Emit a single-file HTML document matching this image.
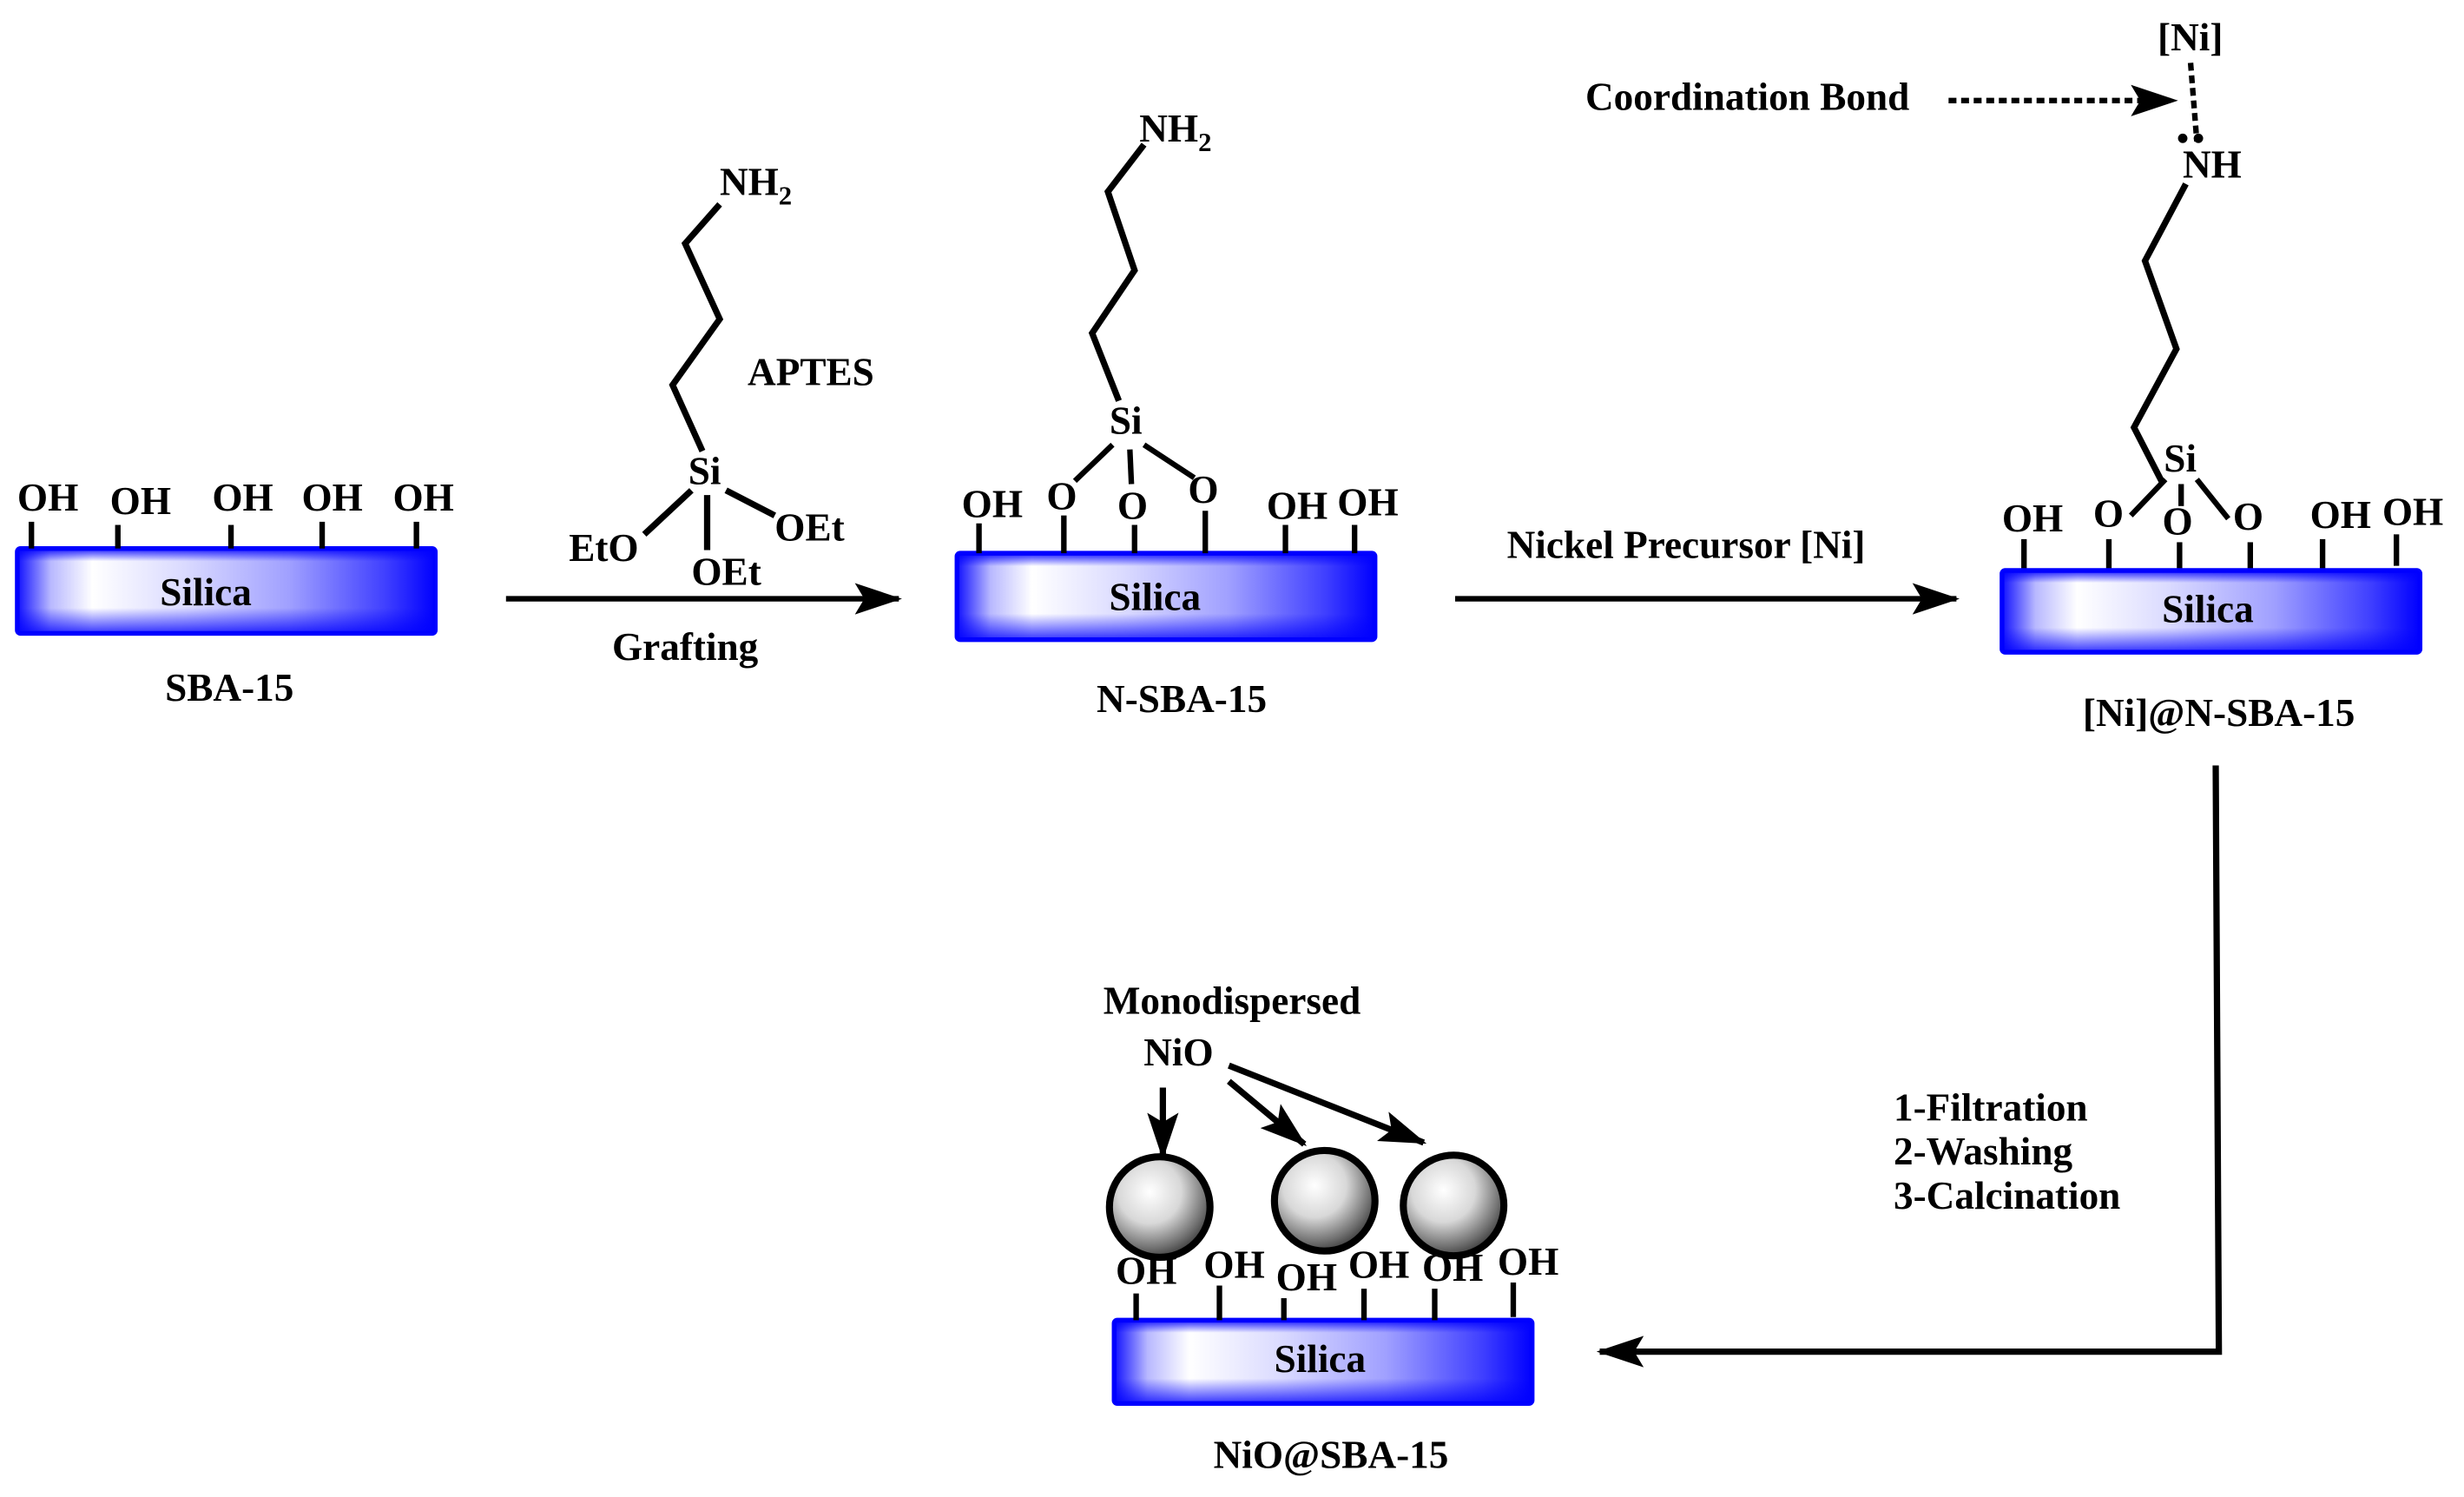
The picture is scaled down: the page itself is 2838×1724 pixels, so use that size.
<!DOCTYPE html>
<html><head><meta charset="utf-8"><style>
html,body{margin:0;padding:0;background:#fff;}
svg{display:block}
svg text{font-family:"Liberation Serif","Times New Roman","DejaVu Serif",serif !important;font-weight:bold;fill:#000}
</style></head><body>
<svg width="2838" height="1724" viewBox="0 0 1568 952.5" preserveAspectRatio="none" xmlns="http://www.w3.org/2000/svg" font-family="Liberation Serif, Times New Roman, serif" font-weight="bold">
<defs>
<linearGradient id="gh" x1="0" x2="1" y1="0" y2="0">
<stop offset="0" stop-color="#1010ff"/>
<stop offset="0.08" stop-color="#b8b8ff"/>
<stop offset="0.18" stop-color="#ffffff"/>
<stop offset="0.4" stop-color="#dadaff"/>
<stop offset="0.65" stop-color="#a0a0ff"/>
<stop offset="0.88" stop-color="#4040ff"/>
<stop offset="1" stop-color="#0000ff"/>
</linearGradient>
<linearGradient id="gv" x1="0" x2="0" y1="0" y2="1">
<stop offset="0" stop-color="#0000ff" stop-opacity="0.9"/>
<stop offset="0.15" stop-color="#0000ff" stop-opacity="0"/>
<stop offset="0.7" stop-color="#0000ff" stop-opacity="0"/>
<stop offset="1" stop-color="#0000ff" stop-opacity="0.8"/>
</linearGradient>
<radialGradient id="sp" cx="0.4" cy="0.35" r="0.7">
<stop offset="0" stop-color="#ffffff"/>
<stop offset="0.45" stop-color="#d8d8d8"/>
<stop offset="0.8" stop-color="#707070"/>
<stop offset="1" stop-color="#303030"/>
</radialGradient>
<marker id="ab" viewBox="0 0 30 20" markerWidth="30" markerHeight="20" refX="28" refY="10" orient="auto" markerUnits="userSpaceOnUse">
<path d="M0,0 L30,10 L0,20 L6,10 z" fill="#000"/>
</marker>
</defs>

<rect x="11" y="349" width="266" height="54" fill="url(#gh)" stroke="#0000ff" stroke-width="3" rx="2"/>
<rect x="11" y="349" width="266" height="54" fill="url(#gv)"/>
<g stroke="#000" stroke-width="3.5">
<line x1="20" y1="332" x2="20" y2="349"/><line x1="75" y1="334" x2="75" y2="349"/><line x1="147" y1="334" x2="147" y2="349"/><line x1="205" y1="332" x2="205" y2="349"/><line x1="265" y1="332" x2="265" y2="349"/>
</g>
<g font-size="25">
<text x="11" y="325">OH</text><text x="70" y="327">OH</text><text x="135" y="325">OH</text><text x="192" y="325">OH</text><text x="250" y="325">OH</text>
</g>
<text x="131" y="385" font-size="25" text-anchor="middle">Silica</text>
<text x="146" y="446" font-size="25" text-anchor="middle">SBA-15</text>

<line x1="322" y1="381" x2="572" y2="381" stroke="#000" stroke-width="3.5" marker-end="url(#ab)"/>
<text x="436" y="420" font-size="25" text-anchor="middle">Grafting</text>
<text x="516" y="245" font-size="25" text-anchor="middle">APTES</text>
<g stroke="#000" stroke-width="4" fill="none">
<polyline points="447,287 428,245 458,203 436,155 458,130"/>
<line x1="440" y1="312" x2="410" y2="340"/>
<line x1="462" y1="312" x2="493" y2="328"/>
<line x1="450" y1="315" x2="450" y2="350"/>
</g>
<g font-size="25">
<text x="438" y="308">Si</text>
<text x="458" y="124">NH<tspan font-size="17" dy="6">2</tspan></text>
<text x="362" y="357">EtO</text><text x="493" y="344">OEt</text><text x="440" y="372">OEt</text>
</g>

<rect x="609" y="352" width="266" height="55" fill="url(#gh)" stroke="#0000ff" stroke-width="3" rx="2"/>
<rect x="609" y="352" width="266" height="55" fill="url(#gv)"/>
<g stroke="#000" stroke-width="3.5" fill="none">
<line x1="623" y1="333" x2="623" y2="352"/><line x1="677" y1="328" x2="677" y2="352"/><line x1="722" y1="334" x2="722" y2="352"/><line x1="767" y1="325" x2="767" y2="352"/><line x1="818" y1="334" x2="818" y2="352"/><line x1="862" y1="334" x2="862" y2="352"/>
<polyline points="712,255 695,212 722,172 705,122 728,92" stroke-width="4"/>
<line x1="708" y1="283" x2="684" y2="306"/><line x1="719" y1="286" x2="720" y2="308"/><line x1="728" y1="283" x2="760" y2="304"/>
</g>
<g font-size="25">
<text x="612" y="329">OH</text><text x="666" y="324">O</text><text x="711" y="330">O</text><text x="756" y="320">O</text><text x="806" y="330">OH</text><text x="851" y="328">OH</text>
<text x="706" y="276">Si</text>
<text x="725" y="90">NH<tspan font-size="17" dy="6">2</tspan></text>
</g>
<text x="735" y="388" font-size="25" text-anchor="middle">Silica</text>
<text x="752" y="453" font-size="25" text-anchor="middle">N-SBA-15</text>

<line x1="926" y1="381" x2="1245" y2="381" stroke="#000" stroke-width="3.5" marker-end="url(#ab)"/>
<text x="1073" y="355" font-size="25" text-anchor="middle">Nickel Precursor [Ni]</text>

<text x="1112" y="70" font-size="25" text-anchor="middle">Coordination Bond</text>
<line x1="1240" y1="64" x2="1384" y2="64" stroke="#000" stroke-width="3.5" stroke-dasharray="5,3" marker-end="url(#ab)"/>
<line x1="1394" y1="40" x2="1398" y2="90" stroke="#000" stroke-width="3.5" stroke-dasharray="5,3"/>
<circle cx="1389" cy="88" r="3"/><circle cx="1399" cy="88" r="3"/>
<g font-size="25">
<text x="1373" y="32">[Ni]</text>
<text x="1389" y="113">NH</text>
<text x="1377" y="300">Si</text>
<text x="1274" y="338">OH</text><text x="1332" y="335">O</text><text x="1376" y="340">O</text><text x="1421" y="337">O</text><text x="1470" y="336">OH</text><text x="1516" y="334">OH</text>
</g>
<g stroke="#000" stroke-width="3.5" fill="none">
<polyline points="1391,117 1365,166 1385,222 1358,272 1376,307" stroke-width="4"/>
<line x1="1378" y1="305" x2="1356" y2="328"/><line x1="1388" y1="308" x2="1388" y2="322"/><line x1="1398" y1="305" x2="1418" y2="330"/>
<line x1="1288" y1="343" x2="1288" y2="362"/><line x1="1342" y1="343" x2="1342" y2="362"/><line x1="1387" y1="345" x2="1387" y2="362"/><line x1="1432" y1="345" x2="1432" y2="362"/><line x1="1478" y1="343" x2="1478" y2="362"/><line x1="1525" y1="340" x2="1525" y2="360"/>
</g>
<rect x="1274" y="363" width="266" height="52" fill="url(#gh)" stroke="#0000ff" stroke-width="3" rx="2"/>
<rect x="1274" y="363" width="266" height="52" fill="url(#gv)"/>
<text x="1405" y="396" font-size="25" text-anchor="middle">Silica</text>
<text x="1412" y="462" font-size="25" text-anchor="middle">[Ni]@N-SBA-15</text>

<polyline points="1410,487 1412,860 1018,860" fill="none" stroke="#000" stroke-width="4" marker-end="url(#ab)"/>
<g font-size="25">
<text x="1205" y="713">1-Filtration</text><text x="1205" y="741">2-Washing</text><text x="1205" y="769">3-Calcination</text>
</g>

<rect x="709" y="840" width="266" height="53" fill="url(#gh)" stroke="#0000ff" stroke-width="3" rx="2"/>
<rect x="709" y="840" width="266" height="53" fill="url(#gv)"/>
<g stroke="#000" stroke-width="3.5">
<line x1="723" y1="823" x2="723" y2="840"/><line x1="776" y1="818" x2="776" y2="840"/><line x1="817" y1="826" x2="817" y2="840"/><line x1="868" y1="820" x2="868" y2="840"/><line x1="913" y1="820" x2="913" y2="840"/><line x1="963" y1="816" x2="963" y2="838"/>
</g>
<g font-size="25">
<text x="710" y="817">OH</text><text x="766" y="813">OH</text><text x="812" y="821">OH</text><text x="858" y="813">OH</text><text x="905" y="815">OH</text><text x="953" y="811">OH</text>
</g>
<g stroke="#000" stroke-width="4.5">
<circle cx="738" cy="768" r="32" fill="url(#sp)"/>
<circle cx="843" cy="764" r="32" fill="url(#sp)"/>
<circle cx="925" cy="767" r="32" fill="url(#sp)"/>
</g>
<text x="840" y="873" font-size="25" text-anchor="middle">Silica</text>
<text x="847" y="934" font-size="25" text-anchor="middle">NiO@SBA-15</text>
<text x="784" y="645" font-size="25" text-anchor="middle">Monodispersed</text>
<text x="750" y="678" font-size="25" text-anchor="middle">NiO</text>
<g stroke="#000" stroke-width="4" fill="none">
<line x1="740" y1="692" x2="740" y2="736" marker-end="url(#ab)"/>
<line x1="782" y1="688" x2="830" y2="728" marker-end="url(#ab)"/>
<line x1="782" y1="678" x2="906" y2="727" marker-end="url(#ab)"/>
</g>
</svg>
</body></html>
